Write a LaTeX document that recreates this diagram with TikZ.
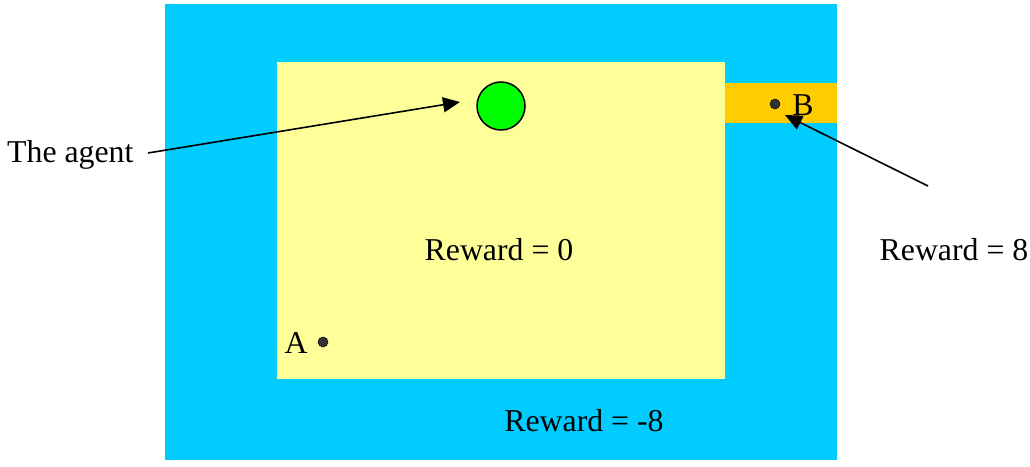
\documentclass[tikz,border=0pt]{standalone}
\usepackage{fontspec}
\setmainfont{Liberation Serif}
\usetikzlibrary{arrows.meta}
\definecolor{bluebg}{HTML}{00CCFF}
\definecolor{yellowbg}{HTML}{FFFF99}
\definecolor{orangebg}{HTML}{FFCC00}
\definecolor{agentgreen}{HTML}{00FF00}
\definecolor{dotgray}{HTML}{333333}
\tikzset{
  lbl/.style={font=\fontsize{31.8}{36}\selectfont, inner sep=0pt, anchor=base},
  ptr/.style={line width=1.6pt, -{Triangle[length=17pt,width=15pt]}},
  dotpt/.style={circle, fill=dotgray, draw=black, line width=0.5pt, minimum size=10pt, inner sep=0pt}
}
\begin{document}
\begin{tikzpicture}[x=1pt,y=-1pt]
\useasboundingbox (0,0) rectangle (1030,466);
\fill[bluebg] (165,4) rectangle (837,460);
\fill[yellowbg] (277,62) rectangle (725,379);
\fill[orangebg] (725,83) rectangle (837,123);
\node[circle, fill=agentgreen, draw=black, line width=1.5pt, minimum size=48pt, inner sep=0pt] (agent) at (501,106) {};
\node[dotpt] (dotA) at (323,342) {};
\node[dotpt] (dotB) at (775,104) {};
\node[lbl] (labA) at (296,353) {A};
\node[lbl] (labB) at (803,115) {B};
\node[lbl] (r0) at (499,260) {Reward = 0};
\node[lbl] (r8) at (954,260) {Reward = 8};
\node[lbl] (rm8) at (584,431) {Reward = -8};
\node[lbl, anchor=base west] (agentlbl) at (7,162) {The agent};
\coordinate (agentstart) at (148,153);
\coordinate (agenttip) at (460,102);
\coordinate (bstart) at (928,186);
\coordinate (btip) at (785,115);
\draw[ptr] (agentstart) -- (agenttip);
\draw[ptr] (bstart) -- (btip);
\end{tikzpicture}
\end{document}
